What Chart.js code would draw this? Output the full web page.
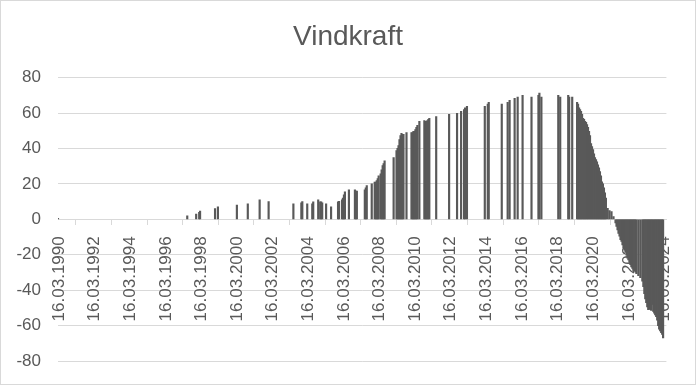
<!DOCTYPE html>
<html>
<head>
<meta charset="utf-8">
<script src="https://cdn.jsdelivr.net/npm/chart.js@4.4.1/dist/chart.umd.min.js"></script>
<style>
	body { margin: 0; background: #fff; }
	.wrap { position: relative; width: 696px; height: 385px; }
	.frame { position: absolute; left: 0; top: 0; width: 696px; height: 385px; box-sizing: border-box; border: 1px solid #d9d9d9; pointer-events: none; }
</style>
</head>
<body>
<div class="wrap">
	<canvas id="chart" width="696" height="385"></canvas>
	<div class="frame"></div>
</div>
<script>
const title = 'Vindkraft';
const tickLabels = ['16.03.1990', '16.03.1992', '16.03.1994', '16.03.1996', '16.03.1998', '16.03.2000',
	'16.03.2002', '16.03.2004', '16.03.2006', '16.03.2008', '16.03.2010', '16.03.2012',
	'16.03.2014', '16.03.2016', '16.03.2018', '16.03.2020', '16.03.2022', '16.03.2024'];
const dates = [
	'16.03.1990', '18.06.1997', '18.12.1997', '18.02.1998', '08.03.1998', '09.01.1999', '09.03.1999',
	'01.04.2000', '11.11.2000', '12.07.2001', '12.01.2002', '04.06.2003', '14.11.2003', '04.12.2003',
	'14.03.2004', '25.06.2004', '15.07.2004', '25.10.2004', '05.12.2004', '25.12.2004', '15.01.2005',
	'05.04.2005', '16.07.2005', '06.12.2005', '26.12.2005', '26.02.2006', '16.03.2006', '06.04.2006',
	'26.04.2006', '17.07.2006', '17.11.2006', '07.12.2006', '27.12.2006', '08.06.2007', '28.06.2007',
	'18.07.2007', '28.10.2007', '28.12.2007', '18.01.2008', '08.02.2008', '28.02.2008', '18.03.2008',
	'28.04.2008', '18.05.2008', '08.06.2008', '28.06.2008', '18.07.2008', '19.01.2009', '19.03.2009',
	'09.04.2009', '29.04.2009', '19.05.2009', '09.06.2009', '29.06.2009', '19.07.2009', '09.08.2009',
	'10.10.2009', '20.01.2010', '10.02.2010', '01.03.2010', '20.03.2010', '10.04.2010', '01.05.2010',
	'21.05.2010', '01.07.2010', '11.10.2010', '01.11.2010', '21.11.2010', '11.12.2010', '01.01.2011',
	'21.01.2011', '11.06.2011', '02.03.2012', '12.08.2012', '03.11.2012', '03.01.2013', '23.01.2013',
	'03.03.2013', '04.03.2014', '04.05.2014', '24.05.2014', '15.02.2015', '16.06.2015', '26.07.2015',
	'06.11.2015', '07.01.2016', '17.04.2016', '17.10.2016', '08.03.2017', '28.03.2017', '08.05.2017',
	'19.04.2018', '29.05.2018', '09.11.2018', '29.11.2018', '30.01.2019', '10.05.2019', '30.05.2019',
	'20.06.2019', '10.07.2019', '30.07.2019', '20.08.2019', '10.09.2019', '30.09.2019', '20.10.2019',
	'10.11.2019', '30.11.2019', '20.12.2019', '10.01.2020', '30.01.2020', '20.02.2020', '11.03.2020',
	'01.04.2020', '21.04.2020', '11.05.2020', '01.06.2020', '21.06.2020', '11.07.2020', '01.08.2020',
	'21.08.2020', '11.09.2020', '01.10.2020', '21.10.2020', '11.11.2020', '01.12.2020', '21.12.2020',
	'26.01.2021', '05.03.2021', '15.04.2021', '26.05.2021', '06.07.2021', '26.07.2021', '16.08.2021',
	'05.09.2021', '26.09.2021', '16.10.2021', '06.11.2021', '26.11.2021', '16.12.2021', '06.01.2022',
	'26.01.2022', '15.02.2022', '07.03.2022', '27.03.2022', '17.04.2022', '07.05.2022', '27.05.2022',
	'17.06.2022', '07.07.2022', '27.07.2022', '17.08.2022', '07.09.2022', '17.10.2022', '27.11.2022',
	'07.01.2023', '28.01.2023', '17.02.2023', '08.03.2023', '28.03.2023', '18.04.2023', '08.05.2023',
	'28.05.2023', '18.06.2023', '08.07.2023', '28.07.2023', '18.08.2023', '08.09.2023', '28.09.2023',
	'18.10.2023', '08.11.2023', '28.11.2023', '18.12.2023', '08.01.2024', '29.01.2024', '18.02.2024',
	'08.03.2024'
];
const values = [
	0.6, 2, 3, 4, 4.7, 6, 7,
	8, 8.7, 11, 10, 8.7, 9.3, 10,
	8.7, 8.7, 9.8, 11, 9.8, 9.8, 9.3,
	8.7, 7, 9.8, 10.2, 11, 12, 13.8,
	15.5, 16.6, 16.6, 16, 16, 16.6, 17.8,
	19, 20, 21, 21, 21.8, 23, 24.6,
	25.7, 28, 30.3, 31.4, 33, 34.8, 38.8,
	40, 41.6, 45, 47.3, 48.5, 48, 48,
	49, 49, 49, 49.6, 49.6, 50.7, 51.9,
	53, 55.3, 55.8, 55.3, 55.3, 55.8, 56.4,
	57, 58, 59.3, 59.8, 61, 62, 63,
	63.8, 63.8, 65, 66, 65, 66, 67.2,
	68.3, 69, 70, 69, 70, 71.2, 69,
	70, 69, 70, 69, 69, 66, 65,
	63, 62, 61, 59.3, 57, 56.4, 55.3,
	54.7, 53.5, 51.9, 49.6, 47.3, 42.8, 41,
	39.4, 37, 34.8, 33.7, 32.5, 30.8, 29,
	26.9, 24.6, 21.2, 20, 17.8, 15, 12,
	6.2, 4.9, 4.3, 1.5, -2, -4, -6,
	-8, -9.5, -11.5, -12.5, -14.4, -16, -17.4,
	-18.6, -20.3, -22, -23, -24.3, -25.6, -26.9,
	-27.8, -28.8, -29.2, -29.8, -30.7, -31.8, -33,
	-35, -38, -42, -45, -47, -49.5, -51,
	-50.5, -51, -51.5, -48, -52, -53, -54,
	-55, -57, -60, -62, -63, -64, -65,
	-67
];

const toDay = s => {
	const [d, m, y] = s.split('.').map(Number);
	return Date.UTC(y, m - 1, d) / 86400000;
};

const points = dates.map((d, i) => ({ x: toDay(d), y: values[i] }));
const textColor = '#595959';
const gridColor = '#d9d9d9';
const font = '"Liberation Sans", Arial, sans-serif';

const data = {
	datasets: [{
		label: title,
		data: points,
		backgroundColor: '#595959',
		borderWidth: 0,
		barThickness: 1.5
	}]
};
const options = {
	responsive: false,
	animation: false,
	layout: {
		padding: { left: 0, right: 0, top: 0, bottom: 24 }
	},
	plugins: {
		legend: { display: false },
		tooltip: { enabled: false },
		title: {
			display: true,
			text: title,
			color: textColor,
			font: { family: font, size: 28, weight: 'normal' },
			padding: { top: 20, bottom: 24 }
		}
	},
	scales: {
		x: {
			type: 'linear',
			position: { y: 0 },
			offset: false,
			min: toDay(tickLabels[0]),
			max: toDay(tickLabels[tickLabels.length - 1]) + 60,
			afterBuildTicks: scale => {
				scale.ticks = tickLabels.map(t => ({ value: toDay(t) }));
			},
			ticks: {
				autoSkip: false,
				minRotation: 90,
				maxRotation: 90,
				padding: 12,
				labelOffset: 1,
				color: textColor,
				font: { family: font, size: 17 },
				callback: (value, index) => tickLabels[index]
			},
			grid: {
				drawOnChartArea: false,
				drawTicks: true,
				tickLength: 5,
				tickColor: gridColor
			},
			border: { display: true, color: gridColor, width: 1 }
		},
		y: {
			min: -80,
			max: 80,
			afterFit: scale => {
				scale.width = 58;
			},
			ticks: {
				stepSize: 20,
				padding: 0,
				color: textColor,
				font: { family: font, size: 17 }
			},
			grid: {
				color: gridColor,
				lineWidth: 1,
				drawTicks: true,
				tickLength: 17,
				tickColor: 'rgba(0,0,0,0)'
			},
			border: { display: false }
		},
		y2: {
			position: 'right',
			min: 0,
			max: 1,
			afterFit: scale => {
				scale.width = 24;
			},
			ticks: { display: false },
			grid: { display: false, drawTicks: false },
			border: { display: false }
		}
	}
};

const ctx = document.getElementById('chart').getContext('2d');
window.myChart = new Chart(ctx, { type: 'bar', data: data, options: options });
</script>
</body>
</html>
